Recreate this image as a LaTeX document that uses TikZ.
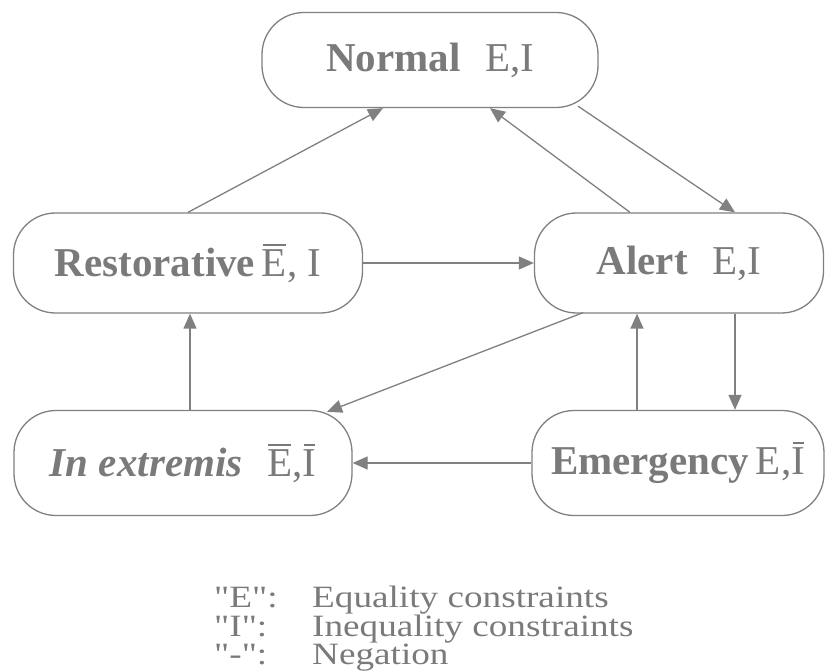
\documentclass[tikz,border=0pt]{standalone}
\usepackage{fontspec}
\setmainfont{Liberation Serif}
\usetikzlibrary{arrows.meta,calc}
\definecolor{ink}{HTML}{7A7A7A}
\definecolor{wire}{HTML}{808080}
% letter with a bar drawn over it (negation)
\newcommand{\barred}[1]{\sbox0{#1}\rlap{\hspace{0.03em}\rule[0.74em]{\dimexpr\wd0-0.06em\relax}{0.055em}}\usebox0}
\newcommand{\wide}[1]{\scalebox{1.2}[1]{#1}}
\newcommand{\q}{\textquotedbl}
\begin{document}
\begin{tikzpicture}[x=1pt,y=-1pt,
  state/.style={draw=wire, line width=1.3pt, rounded corners=42pt, text=ink,
    font=\fontsize{41}{44}\selectfont, inner sep=0pt},
  link/.style={draw=wire, line width=1.3pt, -{Triangle[length=15pt,width=13pt]}},
  legend/.style={text=ink, font=\fontsize{31}{33}\selectfont, anchor=base west, inner sep=0pt}]
\useasboundingbox (0,0) rectangle (828,671);
\node[state, minimum width=336pt, minimum height=95pt] (norm) at (430,60)
  {\textbf{Normal}\hspace{0.6em}E,I};
\node[state, minimum width=349pt, minimum height=100pt] (rest) at (188,263)
  {\textbf{Restorative}\,\barred{E}, I};
\node[state, minimum width=289pt, minimum height=100pt] (alert) at (679,263)
  {\textbf{Alert}\hspace{0.6em}E,I};
\node[state, minimum width=338pt, minimum height=105pt] (extr) at (183,463)
  {\textbf{\textit{In extremis}}\hspace{0.6em}\barred{E},\barred{I}};
\node[state, minimum width=292pt, minimum height=105pt] (emer) at (678,463)
  {\textbf{Emergency}\,E,\barred{I}};

\draw[link] (rest.north) -- ($(norm.south)+(-47,0)$);
\draw[link] ($(alert.north)+(-49,0)$) -- ($(norm.south)+(60,0)$);
\draw[link] ($(norm.south)+(148,-2)$) -- ($(alert.north)+(56,0)$);
\draw[link] (rest.east) -- (alert.west);
\draw[link] ($(alert.south)+(-96,-1)$) -- ($(extr.north)+(144,2)$);
\draw[link] ($(extr.north)+(7,0)$) -- ($(rest.south)+(2,0)$);
\draw[link] ($(emer.north)+(-41,0)$) -- ($(alert.south)+(-42,0)$);
\draw[link] ($(alert.south)+(56,0)$) -- ($(emer.north)+(57,0)$);
\draw[link] (emer.west) -- (extr.east);

\node[legend] (kE) at (214,607) {\wide{\q E\q:}};
\node[legend] (kI) at (214,636) {\wide{\q I\q:}};
\node[legend] (kN) at (214,664) {\wide{\q-\q:}};
\node[legend] (tE) at (312,607) {\wide{Equality constraints}};
\node[legend] (tI) at (312,636) {\wide{Inequality constraints}};
\node[legend] (tN) at (312,664) {\wide{Negation}};
\end{tikzpicture}
\end{document}
